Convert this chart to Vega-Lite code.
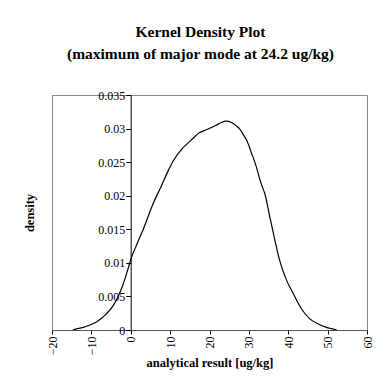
{
  "$schema": "https://vega.github.io/schema/vega-lite/v6.json",
  "autosize": {"type": "none"},
  "padding": {"left": 52, "top": 95, "right": 9, "bottom": 48},
  "width": 315,
  "height": 235,
  "background": "white",
  "title": {
    "text": ["Kernel Density Plot", "(maximum of major mode at 24.2 ug/kg)"],
    "font": "Liberation Serif",
    "fontSize": 15.5,
    "fontWeight": "bold",
    "color": "black",
    "anchor": "middle",
    "frame": "group",
    "dx": -9,
    "lineHeight": 22,
    "offset": 27
  },
  "config": {
    "view": {"stroke": "#888888", "strokeWidth": 1},
    "axis": {
      "labelFont": "Liberation Serif",
      "labelFontSize": 12,
      "labelColor": "black",
      "titleFont": "Liberation Serif",
      "titleFontSize": 12.5,
      "titleFontWeight": "bold",
      "titleColor": "black",
      "domainColor": "black",
      "tickColor": "black",
      "grid": false
    }
  },
  "data": {
    "values": [
      {"x": -14.7, "density": 0.0},
      {"x": -13.5, "density": 0.0002},
      {"x": -12.0, "density": 0.0004},
      {"x": -10.5, "density": 0.0007},
      {"x": -8.7, "density": 0.0012},
      {"x": -7.5, "density": 0.0017},
      {"x": -6.2, "density": 0.0024},
      {"x": -4.5, "density": 0.0036},
      {"x": -3.2, "density": 0.005},
      {"x": -2.0, "density": 0.0067},
      {"x": -1.0, "density": 0.0085},
      {"x": 0.0, "density": 0.0105},
      {"x": 1.5, "density": 0.0127},
      {"x": 3.1, "density": 0.0149},
      {"x": 5.6, "density": 0.0187},
      {"x": 7.8, "density": 0.0215},
      {"x": 9.5, "density": 0.0237},
      {"x": 10.7, "density": 0.0251},
      {"x": 12.9, "density": 0.0269},
      {"x": 15.2, "density": 0.0282},
      {"x": 17.5, "density": 0.0294},
      {"x": 19.5, "density": 0.0299},
      {"x": 21.7, "density": 0.0305},
      {"x": 23.0, "density": 0.0309},
      {"x": 24.2, "density": 0.0311},
      {"x": 25.6, "density": 0.0309},
      {"x": 26.8, "density": 0.0304},
      {"x": 27.7, "density": 0.0299},
      {"x": 28.7, "density": 0.029},
      {"x": 29.5, "density": 0.0282},
      {"x": 30.7, "density": 0.0263},
      {"x": 31.9, "density": 0.0243},
      {"x": 32.8, "density": 0.0224},
      {"x": 33.5, "density": 0.0212},
      {"x": 34.0, "density": 0.0204},
      {"x": 35.3, "density": 0.0169},
      {"x": 36.6, "density": 0.0134},
      {"x": 37.8, "density": 0.0104},
      {"x": 39.5, "density": 0.0075},
      {"x": 41.2, "density": 0.0055},
      {"x": 43.3, "density": 0.0032},
      {"x": 45.4, "density": 0.0017},
      {"x": 47.6, "density": 0.0009},
      {"x": 49.7, "density": 0.0004},
      {"x": 51.0, "density": 0.0002},
      {"x": 52.3, "density": 0.0}
    ]
  },
  "mark": {"type": "line", "color": "black", "strokeWidth": 1.2, "interpolate": "monotone"},
  "encoding": {
    "x": {
      "field": "x",
      "type": "quantitative",
      "scale": {"domain": [-20, 60], "nice": false, "zero": false},
      "axis": {
        "title": "analytical result [ug/kg]",
        "values": [-20, -10, 0, 10, 20, 30, 40, 50, 60],
        "labelAngle": 270,
        "tickSize": 4,
        "labelPadding": 2,
        "domainColor": "#555555",
        "titleY": 32,
        "titleBaseline": "middle"
      }
    },
    "y": {
      "field": "density",
      "type": "quantitative",
      "scale": {"domain": [0, 0.035], "nice": false},
      "axis": {
        "title": "density",
        "values": [0, 0.005, 0.01, 0.015, 0.02, 0.025, 0.03, 0.035],
        "format": "~g",
        "offset": -78.7,
        "tickSize": 5,
        "labelPadding": 1,
        "titleX": -101,
        "titleY": 117.5,
        "titleAlign": "center",
        "titleBaseline": "middle",
        "titleAngle": -90
      }
    }
  }
}
